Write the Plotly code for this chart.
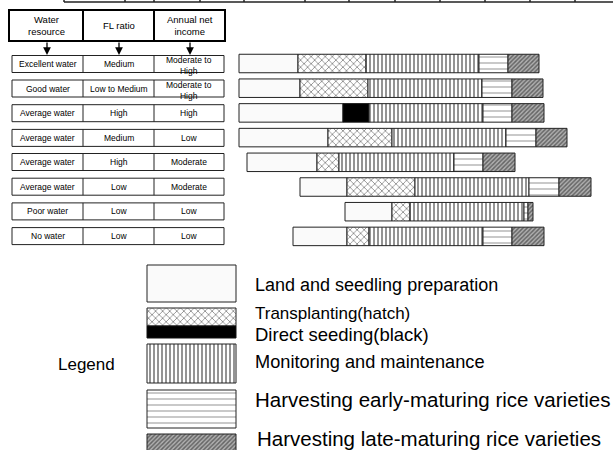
import plotly.graph_objects as go

# ---------------- data ----------------
headers = ["Water<br>resource", "FL ratio", "Annual net<br>income"]
water = ["Excellent water", "Good water", "Average water", "Average water",
         "Average water", "Average water", "Poor water", "No water"]
fl_ratio = ["Medium", "Low to Medium", "High", "Medium", "High", "Low", "Low", "Low"]
income = ["Moderate to<br>High", "Moderate to<br>High", "High", "Low",
          "Moderate", "Moderate", "Low", "Low"]
planting_type = ["hatch", "hatch", "black", "hatch", "hatch", "hatch", "hatch", "hatch"]

# timeline positions (chart units) of each activity
start = [239, 239, 239, 239, 247, 300, 345, 293]
land = [59, 61, 104, 89, 70, 47, 47, 54]
plant = [68, 68, 26, 64, 22, 68, 18, 22]
monitor = [113, 114, 114, 114, 115, 114, 114, 114]
early = [29, 30, 29, 30, 29, 30, 4, 29]
late = [31, 31, 32, 31, 32, 32, 5, 32]

timeline_ticks = [64, 125, 154, 200, 244, 305, 349, 395, 440, 485, 530, 575]

legend_labels = ["Land and seedling preparation", "Transplanting(hatch)",
                 "Direct seeding(black)", "Monitoring and maintenance",
                 "Harvesting early-maturing rice varieties",
                 "Harvesting late-maturing rice varieties"]

# ---------------- layout helpers ----------------
W, H = 613, 450
FONT = "Arial, Liberation Sans, sans-serif"
n = len(water)
row_y = [63.5 + i * 24.7 for i in range(n)]
BAR_H = 18.5

LAND = dict(color="#fafafa", line=dict(color="#222", width=1))
HATCH = dict(color="white", line=dict(color="#222", width=1),
             pattern=dict(shape="x", size=5, solidity=0.3, fgcolor="#111", bgcolor="white"))
BLACK = dict(color="black", line=dict(color="#111", width=1))
MON = dict(color="white", line=dict(color="#222", width=1),
           pattern=dict(shape="|", size=4, solidity=0.45, fgcolor="#111", bgcolor="white"))
EARLY = dict(color="white", line=dict(color="#222", width=1),
             pattern=dict(shape="-", size=6, solidity=0.3, fgcolor="#888", bgcolor="white"))
LATE = dict(color="#999", line=dict(color="#222", width=1),
            pattern=dict(shape="/", size=3, solidity=0.5, fgcolor="#1a1a1a", bgcolor="#b0b0b0"))

fig = go.Figure()

def add_bar(ys, xs, bases, marker, width=BAR_H):
    fig.add_trace(go.Bar(orientation="h", y=ys, x=xs, base=bases, width=width,
                         marker=marker, showlegend=False, hoverinfo="skip"))

# cumulative starts
s_land = start
s_plant = [a + b for a, b in zip(s_land, land)]
s_mon = [a + b for a, b in zip(s_plant, plant)]
s_early = [a + b for a, b in zip(s_mon, monitor)]
s_late = [a + b for a, b in zip(s_early, early)]

add_bar(row_y, land, s_land, LAND)
hi = [i for i in range(n) if planting_type[i] == "hatch"]
bi = [i for i in range(n) if planting_type[i] == "black"]
add_bar([row_y[i] for i in hi], [plant[i] for i in hi], [s_plant[i] for i in hi], HATCH)
add_bar([row_y[i] for i in bi], [plant[i] for i in bi], [s_plant[i] for i in bi], BLACK)
add_bar(row_y, monitor, s_mon, MON)
add_bar(row_y, early, s_early, EARLY)
add_bar(row_y, late, s_late, LATE)

# ---------------- legend swatches ----------------
LX0, LW = 147, 89
sw = [(265, 302, LAND), (308, 326, HATCH), (326, 338, BLACK),
      (344, 383, MON), (390, 428, EARLY), (434, 452, LATE)]
for y0, y1, mk in sw:
    add_bar([(y0 + y1) / 2], [LW], [LX0], mk, width=(y1 - y0))

shapes = []
annos = []

# legend texts
leg_y = [285, 313, 334, 362, 399, 438]
leg_x = [253, 253, 253, 253, 253, 255]
leg_size = [18, 17, 18.5, 18.2, 20.5, 20.5]
for t, x, y, fs in zip(legend_labels, leg_x, leg_y, leg_size):
    annos.append(dict(x=x, y=y, text=t, showarrow=False, xanchor="left", yanchor="middle",
                      font=dict(family=FONT, size=fs, color="black")))
annos.append(dict(x=86, y=364, text="Legend", showarrow=False, xanchor="center",
                  font=dict(family=FONT, size=17, color="black")))

# ---------------- timeline strip at top ----------------
shapes.append(dict(type="line", x0=timeline_ticks[0], x1=W, y0=2, y1=2,
                   line=dict(color="#222", width=1.5)))
for t in timeline_ticks:
    shapes.append(dict(type="line", x0=t, x1=t, y0=-1, y1=2, line=dict(color="#222", width=1.5)))

# ---------------- header table ----------------
hx = [9, 83, 154, 225]
shapes.append(dict(type="rect", x0=hx[0], x1=hx[-1], y0=10, y1=41,
                   line=dict(color="black", width=2)))
for x in hx[1:-1]:
    shapes.append(dict(type="line", x0=x, x1=x, y0=10, y1=41, line=dict(color="black", width=2)))
for i, h in enumerate(headers):
    annos.append(dict(x=(hx[i] + hx[i + 1]) / 2, y=25.5, text=h, showarrow=False,
                      font=dict(family=FONT, size=9.5, color="black")))
for cx in [47, 119, 190]:
    annos.append(dict(x=cx, y=55, ax=cx, ay=41, axref="x", ayref="y", xref="x", yref="y",
                      text="", showarrow=True, arrowhead=2, arrowsize=1.2, arrowwidth=1.3,
                      arrowcolor="black"))

# ---------------- body table ----------------
tx = [12, 83, 154, 224]
TH = 17
for i in range(n):
    yc = row_y[i] + (0.3 if i else 0.5) - 0.6 * (i > 3)
    y0, y1 = yc - TH / 2, yc + TH / 2
    shapes.append(dict(type="rect", x0=tx[0], x1=tx[-1], y0=y0, y1=y1,
                       line=dict(color="#222", width=1)))
    for x in tx[1:-1]:
        shapes.append(dict(type="line", x0=x, x1=x, y0=y0, y1=y1, line=dict(color="#222", width=1)))
    for j, txt in enumerate([water[i], fl_ratio[i], income[i]]):
        two = "<br>" in txt
        annos.append(dict(x=(tx[j] + tx[j + 1]) / 2, y=yc + (1.5 if two else 0), text=txt,
                          showarrow=False, yanchor="middle",
                          font=dict(family=FONT, size=8.5, color="black")))

fig.update_layout(
    width=W, height=H, autosize=False,
    margin=dict(l=0, r=0, t=0, b=0),
    paper_bgcolor="white", plot_bgcolor="white",
    barmode="overlay",
    xaxis=dict(range=[0, W], visible=False, fixedrange=True),
    yaxis=dict(range=[H, 0], visible=False, fixedrange=True),
    shapes=shapes, annotations=annos,
)

fig.write_html("out.html", config={"displayModeBar": False},
               post_script="document.body.style.margin='0px';document.body.style.overflow='hidden';")
